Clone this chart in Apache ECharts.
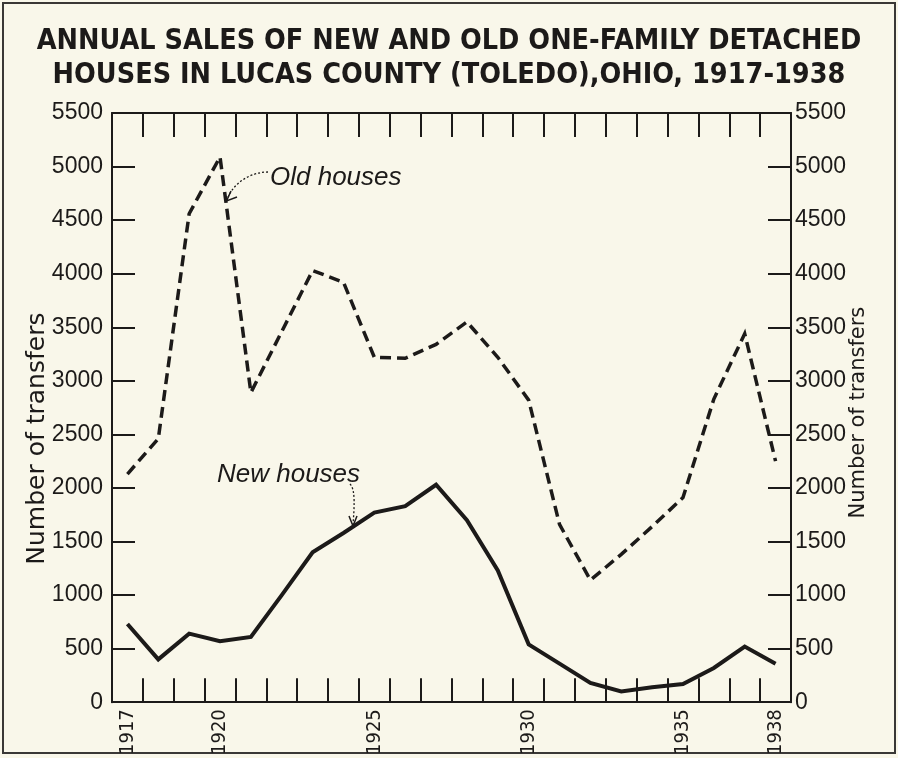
<!DOCTYPE html>
<html>
<head>
<meta charset="utf-8">
<script src="https://cdn.jsdelivr.net/npm/echarts@6/dist/echarts.min.js"></script>
<style>
  html, body { margin: 0; padding: 0; background: #f9f7ea; }
  #chart { width: 898px; height: 758px; }
</style>
</head>
<body>
<div id="chart"></div>
<script>
  // data
  const years = ['1917', '1918', '1919', '1920', '1921', '1922', '1923', '1924', '1925', '1926', '1927',
    '1928', '1929', '1930', '1931', '1932', '1933', '1934', '1935', '1936', '1937', '1938'];
  const oldHouses = [2130, 2460, 4560, 5090, 2890, 3460, 4030, 3920, 3220, 3210, 3340,
    3550, 3220, 2820, 1660, 1140, 1380, 1640, 1910, 2830, 3440, 2250];
  const newHouses = [730, 400, 640, 570, 610, 1000, 1400, 1580, 1770, 1830, 2030,
    1700, 1230, 540, 360, 180, 100, 140, 170, 320, 520, 360];
  const yearLabels = ['1917', '1920', '1925', '1930', '1935', '1938'];
  const yMin = 0, yMax = 5500, yStep = 500;

  const ink = '#1c1a19';
  const numFont = "'Liberation Sans', sans-serif";
  const nameFont = "'DejaVu Sans', sans-serif";
  const narrowFont = "'DejaVu Sans Condensed', sans-serif";

  const chart = echarts.init(document.getElementById('chart'));

  const xBase = {
    type: 'category',
    data: years,
    boundaryGap: true,
    axisLine: { show: true, onZero: false, lineStyle: { color: ink, width: 2 } },
    axisTick: { show: true, inside: true, length: 24, interval: 0, alignWithLabel: false,
      lineStyle: { color: ink, width: 2 } },
    splitLine: { show: false }
  };
  const yBase = {
    type: 'value',
    min: yMin,
    max: yMax,
    interval: yStep,
    name: 'Number of transfers',
    nameLocation: 'middle',
    nameRotate: 90,
    nameMoveOverlap: false,
    axisLine: { show: true, onZero: false, lineStyle: { color: ink, width: 2 } },
    axisTick: { show: true, inside: true, length: 23, lineStyle: { color: ink, width: 2 } },
    splitLine: { show: false }
  };
  const yLabel = (margin) => ({
    color: ink, fontSize: 23, fontFamily: numFont, margin: margin,
    formatter: (v) => String(v)
  });

  const option = {
    backgroundColor: '#f9f7ea',
    animation: false,
    title: {
      text: 'ANNUAL SALES OF NEW AND OLD ONE-FAMILY DETACHED\nHOUSES IN LUCAS COUNTY (TOLEDO),OHIO, 1917-1938',
      left: 'center',
      top: 20,
      textStyle: { color: ink, fontSize: 28.5, fontWeight: 'bold', lineHeight: 34, fontFamily: narrowFont }
    },
    grid: { left: 112, right: 107, top: 113, bottom: 54 },
    xAxis: [
      Object.assign({}, xBase, {
        position: 'bottom',
        axisLabel: {
          interval: (i, v) => yearLabels.includes(v),
          rotate: 90,
          margin: 7,
          color: ink,
          fontSize: 20,
          fontFamily: narrowFont
        }
      }),
      Object.assign({}, xBase, { position: 'top', axisLabel: { show: false } })
    ],
    yAxis: [
      Object.assign({}, yBase, {
        position: 'left', nameGap: 62, axisLabel: yLabel(9),
        nameTextStyle: { color: ink, fontSize: 25, fontFamily: nameFont, padding: [0, 62, 0, 0] }
      }),
      Object.assign({}, yBase, {
        position: 'right', nameGap: 57, axisLabel: yLabel(4),
        nameTextStyle: { color: ink, fontSize: 21, fontFamily: nameFont, padding: [0, 10, 0, 0] }
      })
    ],
    series: [
      {
        name: 'Old houses',
        type: 'line',
        data: oldHouses,
        showSymbol: false,
        lineStyle: { color: ink, width: 3.5, type: [11, 6], join: 'miter', cap: 'butt' },
        z: 5
      },
      {
        name: 'New houses',
        type: 'line',
        data: newHouses,
        showSymbol: false,
        lineStyle: { color: ink, width: 4, join: 'miter' },
        z: 5
      }
    ],
    graphic: [
      { type: 'rect', shape: { x: 3, y: 3, width: 892, height: 750 },
        style: { fill: 'none', stroke: '#3a3836', lineWidth: 2 }, silent: true, z: -1 },
      { type: 'text', x: 270, y: 178,
        style: { text: 'Old houses', fill: ink, font: "italic 26px 'Liberation Sans', sans-serif",
          textVerticalAlign: 'middle' } },
      { type: 'bezierCurve',
        shape: { x1: 268, y1: 172, cpx1: 250, cpy1: 172, cpx2: 232, cpy2: 184, x2: 227, y2: 200 },
        style: { fill: 'none', stroke: ink, lineWidth: 1.3, lineDash: [2, 2] } },
      { type: 'polyline', shape: { points: [[231, 191], [226.5, 201], [237, 197]] },
        style: { fill: 'none', stroke: ink, lineWidth: 1.5 } },
      { type: 'text', x: 217, y: 475,
        style: { text: 'New houses', fill: ink, font: "italic 26px 'Liberation Sans', sans-serif",
          textVerticalAlign: 'middle' } },
      { type: 'bezierCurve',
        shape: { x1: 350, y1: 484, cpx1: 356, cpy1: 490, cpx2: 354, cpy2: 510, x2: 353, y2: 525 },
        style: { fill: 'none', stroke: ink, lineWidth: 1.3, lineDash: [2, 2] } },
      { type: 'polyline', shape: { points: [[349, 516], [353, 526], [357, 516]] },
        style: { fill: 'none', stroke: ink, lineWidth: 1.5 } }
    ]
  };

  chart.setOption(option);
</script>
</body>
</html>
